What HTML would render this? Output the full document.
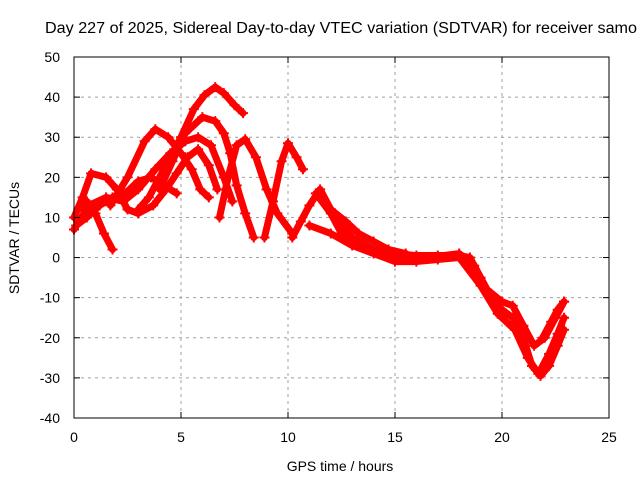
<!DOCTYPE html>
<html><head><meta charset="utf-8"><style>
body{margin:0;background:#fff}
svg text{font-family:"Liberation Sans",sans-serif;font-size:14px;fill:#000}
</style></head><body>
<svg id="chart" width="640" height="480">
<text x="45" y="33" textLength="592" lengthAdjust="spacingAndGlyphs" style="font-size:15.5px">Day 227 of 2025, Sidereal Day-to-day VTEC variation (SDTVAR) for receiver samo</text>
<g id="grid"></g><g id="series"></g><g id="axes"></g>
<text x="340" y="471" text-anchor="middle">GPS time / hours</text>
<text transform="translate(19,238) rotate(-90)" text-anchor="middle">SDTVAR / TECUs</text>
</svg>
<script>
const xTicks=[0,5,10,15,20,25];
const yTicks=[-40,-30,-20,-10,0,10,20,30,40,50];
const trace1=[[3,12],[3.5,15],[4.2,22],[5,30],[5.6,37],[6.1,40.5],[6.6,42.5],[7,41],[7.5,38],[7.9,36]];
const trace2=[[4,17],[4.6,24],[5.2,31],[6,35],[6.6,34],[7,31],[7.3,26],[7.6,18],[8,11],[8.4,5]];
const trace3=[[1.7,13],[2.5,20],[3.3,29],[3.8,32],[4.4,30],[5,26],[5.5,22],[5.9,17],[6.3,15]];
const trace4=[[6.8,10],[7.2,20],[7.6,28],[8,29.5],[8.5,25],[9,17],[9.5,11],[10.2,6]];
const trace5=[[8.9,5],[9.3,14],[9.7,24],[10,28.5],[10.4,25],[10.7,22]];
const trace6=[[0,7],[0.7,13],[1.5,15],[2.3,14],[3,17],[3.8,22],[4.5,26],[5.2,29],[5.8,30],[6.4,28],[7,20],[7.4,14]];
const trace7=[[0,10],[0.4,15],[0.8,21],[1.5,20],[2,17],[2.5,12],[3,11],[3.7,13],[4.3,17],[4.8,21],[5.3,25],[5.8,27],[6.3,23],[6.7,17]];
const trace8=[[0.2,12],[0.6,14],[1,11],[1.4,6],[1.8,2]];
const trace9=[[0.1,8],[0.6,10],[1.2,13],[1.8,15],[2.4,16],[3,19],[3.6,20],[4.2,18],[4.8,16]];
const trace10=[[10.2,5],[10.6,9],[11,13],[11.5,17],[12,12],[12.5,8],[13,5],[14,2],[15,1],[16,0.5],[17,0.5],[18,0.5],[18.5,0],[19,-5],[19.5,-10],[20,-13],[20.5,-15],[21,-20],[21.4,-27],[21.8,-29.5],[22.2,-27],[22.6,-22],[22.9,-18]];
const trace11=[[11.3,16],[12,11],[12.5,6],[13.5,3],[15,0],[16.5,0],[18,1],[18.7,-2],[19.3,-8],[20,-11],[20.5,-12],[21,-17],[21.5,-22],[22,-20],[22.5,-15],[22.9,-11]];
const trace12=[[11,8],[12,6],[13,3],[14,1],[15,-1],[16,-1],[17,-0.5],[18,0],[19,-7],[19.8,-14],[20.6,-18],[21.2,-25],[21.7,-29],[22.2,-24],[22.6,-19],[22.9,-15]];
const trace13=[[12,12],[12.7,9],[13.3,6],[14,4],[14.7,2],[15.5,1]];
const trace14=[[21.9,-20],[22.3,-16],[22.6,-13],[22.9,-11]];
const allTraces=[trace1,trace2,trace3,trace4,trace5,trace6,trace7,trace8,trace9,trace10,trace11,trace12,trace13,trace14];
const X0=74,X1=609,Y0=418,Y1=57;
const xs=v=>X0+(v-0)/25*(X1-X0);
const ys=v=>Y0-(v+40)/90*(Y0-Y1);
const NS="http://www.w3.org/2000/svg";
const mk=(t,a,p)=>{const e=document.createElementNS(NS,t);for(const k in a)e.setAttribute(k,a[k]);p.appendChild(e);return e;};
const grid=document.getElementById('grid'),axes=document.getElementById('axes'),ser=document.getElementById('series');
xTicks.forEach(t=>{const x=xs(t);
 if(t>0&&t<25){const g=mk('line',{x1:x,x2:x,y1:Y0,y2:Y1,stroke:'#a0a0a0','stroke-dasharray':'3,4'},grid);
 
 }
 mk('line',{x1:x,x2:x,y1:Y0,y2:Y0-6,stroke:'#000'},axes);mk('line',{x1:x,x2:x,y1:Y1,y2:Y1+6,stroke:'#000'},axes);
 const l=mk('text',{x:x,y:Y0+24,'text-anchor':'middle'},axes);l.textContent=t;
 
 });
yTicks.forEach(t=>{const y=ys(t);
 if(t>-40&&t<50){const g=mk('line',{x1:X0,x2:X1,y1:y,y2:y,stroke:'#a0a0a0','stroke-dasharray':'3,4'},grid);
 
 }
 mk('line',{x1:X0,x2:X0+6,y1:y,y2:y,stroke:'#000'},axes);mk('line',{x1:X1,x2:X1-6,y1:y,y2:y,stroke:'#000'},axes);
 const l=mk('text',{x:X0-14,y:y+5,'text-anchor':'end'},axes);l.textContent=t;
 
 });
const fr=mk('rect',{x:X0,y:Y1,width:X1-X0,height:Y0-Y1,fill:'none',stroke:'#000'},axes);


allTraces.forEach(tr=>{
 const p=mk('polyline',{points:tr.map(d=>xs(d[0])+','+ys(d[1])).join(' '),fill:'none',stroke:'#ff0000','stroke-width':7,'stroke-linejoin':'round','stroke-linecap':'round'},ser);
 
 
 tr.forEach(d=>{const x=xs(d[0]),y=ys(d[1]);
  mk('path',{d:`M${x-5},${y}H${x+5}M${x},${y-5}V${y+5}`,stroke:'#ff0000','stroke-width':2},ser);});
});
</script>
</body></html>
